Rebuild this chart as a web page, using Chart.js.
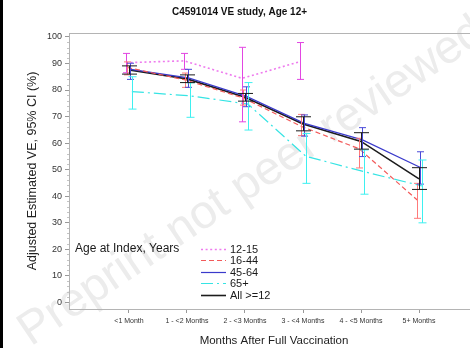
<!DOCTYPE html>
<html>
<head>
<meta charset="utf-8">
<script src="https://cdn.jsdelivr.net/npm/chart.js@4.4.1/dist/chart.umd.min.js"></script>
<style>
  html, body { margin: 0; padding: 0; background: #fff; overflow: hidden; width: 470px; height: 348px; }
  #wrap { position: relative; width: 470px; height: 348px; overflow: hidden; }
  #c { position: absolute; left: 0; top: 0; }
  #edge { position: absolute; left: 0; top: 0; width: 3px; height: 348px; background: #000; }
</style>
</head>
<body>
<div id="wrap">
  <canvas id="c" width="498" height="348" style="width:498px;height:348px"></canvas>
  <div id="edge"></div>
</div>
<script>
// Time since full vaccination
const categories = ['<1 Month', '1 - <2 Months', '2 - <3 Months', '3 - <4 Months', '4 - <5 Months', '5+ Months'];
const yTickValues = [0, 10, 20, 30, 40, 50, 60, 70, 80, 90, 100];

// Adjusted VE (%) with 95% CI, by age group
const age12to15 = [90.3, 91.0, 84.4, 90.7, null, null];
const age12to15Lo = [86.5, 87.8, 68.0, 84.0, null, null];
const age12to15Hi = [93.8, 93.8, 96.1, 97.9, null, null];

const age16to44 = [88.5, 83.8, 77.0, 66.3, 57.8, 38.5];
const age16to44Lo = [85.7, 81.0, 74.3, 62.8, 50.6, 31.6];
const age16to44Hi = [90.6, 86.4, 80.0, 70.8, 61.8, 44.8];

const age45to64 = [87.8, 84.6, 77.6, 67.4, 61.2, 50.8];
const age45to64Lo = [84.0, 81.0, 73.7, 62.6, 54.9, 44.5];
const age45to64Hi = [90.1, 87.8, 81.2, 70.6, 65.8, 56.7];

const age65plus = [79.4, 77.8, 74.7, 55.0, 49.2, 43.8];
const age65plusLo = [72.8, 69.7, 64.9, 44.8, 40.7, 29.9];
const age65plusHi = [85.0, 82.7, 82.8, 63.6, 57.4, 53.6];

const ageAll = [87.6, 84.2, 77.3, 67.2, 60.6, 46.5];
const ageAllLo = [86.0, 82.8, 75.8, 64.6, 57.7, 42.5];
const ageAllHi = [89.1, 85.7, 78.7, 69.9, 63.9, 50.7];

Chart.defaults.font.family = "'Liberation Sans', Arial, sans-serif";
Chart.defaults.color = '#222';

// small horizontal shift per group so the intervals don't overlap
function series(label, vals, lo, hi, shift, style) {
  const pts = [];
  vals.forEach((v, i) => { if (v !== null) pts.push({ x: i + 1 + shift, y: v }); });
  return Object.assign({
    label: label,
    data: pts,
    lo: lo, hi: hi, shift: shift,
    pointRadius: 0,
    pointHoverRadius: 0,
    fill: false,
    tension: 0
  }, style);
}

const datasets = [
  series('12-15', age12to15, age12to15Lo, age12to15Hi, -0.05,
    { borderColor: '#ee7bee', borderWidth: 1.6, borderDash: [2, 2.6], barColor: '#e246e2', cap: 3.5 }),
  series('16-44', age16to44, age16to44Lo, age16to44Hi, -0.03,
    { borderColor: '#f25a5a', borderWidth: 1.2, borderDash: [5, 3], barColor: '#ff7a7a', cap: 3.5 }),
  series('45-64', age45to64, age45to64Lo, age45to64Hi, 0.025,
    { borderColor: '#3a3acb', borderWidth: 1.2, borderDash: [], barColor: '#4a4ad8', cap: 3.5 }),
  series('65+', age65plus, age65plusLo, age65plusHi, 0.05,
    { borderColor: '#36e4e4', borderWidth: 1.2, borderDash: [12, 4, 2, 4], barColor: '#3ef0f0', cap: 4 }),
  series('All >=12', ageAll, ageAllLo, ageAllHi, 0,
    { borderColor: '#1c1c1c', borderWidth: 1.6, borderDash: [], barColor: '#1c1c1c', cap: 7.5 })
];

const watermark = {
  id: 'watermark',
  beforeDraw(chart) {
    const ctx = chart.ctx;
    ctx.save();
    ctx.translate(252, 182);
    ctx.rotate(-34 * Math.PI / 180);
    ctx.font = "47px 'Liberation Sans', Arial, sans-serif";
    ctx.fillStyle = '#ececec';
    ctx.textAlign = 'center';
    ctx.textBaseline = 'middle';
    ctx.fillText('Preprint not peer reviewed', 0, 0);
    ctx.restore();
  }
};

const frame = {
  id: 'frame',
  beforeDatasetsDraw(chart) {
    const { ctx, chartArea: a, scales: { y } } = chart;
    ctx.save();
    ctx.strokeStyle = '#b4b4b4';
    ctx.lineWidth = 1;
    ctx.beginPath();
    ctx.moveTo(a.left, a.top + 0.5);
    ctx.lineTo(a.right, a.top + 0.5);
    ctx.stroke();
    // minor ticks on the response axis
    ctx.strokeStyle = '#c4c4c4';
    ctx.beginPath();
    for (let v = 2; v < 100; v += 2) {
      if (v % 10 === 0) continue;
      const py = Math.round(y.getPixelForValue(v)) + 0.5;
      ctx.moveTo(a.left - 2, py);
      ctx.lineTo(a.left, py);
    }
    ctx.stroke();
    ctx.restore();
  }
};

const errorBars = {
  id: 'errorBars',
  afterDatasetsDraw(chart) {
    const { ctx, scales: { x, y } } = chart;
    ctx.save();
    chart.data.datasets.forEach(ds => {
      ctx.strokeStyle = ds.barColor;
      ctx.lineWidth = 1;
      ctx.setLineDash([]);
      ds.lo.forEach((lo, i) => {
        const hi = ds.hi[i];
        if (lo === null || hi === null) return;
        const px = Math.round(x.getPixelForValue(i + 1 + ds.shift)) + 0.5;
        const pLo = y.getPixelForValue(lo);
        const pHi = y.getPixelForValue(hi);
        ctx.beginPath();
        ctx.moveTo(px, pLo); ctx.lineTo(px, pHi);
        ctx.moveTo(px - ds.cap, pLo); ctx.lineTo(px + ds.cap, pLo);
        ctx.moveTo(px - ds.cap, pHi); ctx.lineTo(px + ds.cap, pHi);
        ctx.stroke();
      });
    });
    ctx.restore();
  }
};

const insetLegend = {
  id: 'insetLegend',
  afterDraw(chart) {
    const { ctx, chartArea: a } = chart;
    const x0 = a.left + 6;
    const y0 = a.bottom - 60.5;
    const step = 11.6;
    ctx.save();
    ctx.fillStyle = '#1a1a1a';
    ctx.textBaseline = 'middle';
    ctx.textAlign = 'left';
    ctx.font = "12px 'Liberation Sans', Arial, sans-serif";
    ctx.fillText('Age at Index, Years', x0, y0);
    ctx.font = "11px 'Liberation Sans', Arial, sans-serif";
    chart.data.datasets.forEach((ds, i) => {
      const yy = Math.round(y0 + i * step) + 0.5;
      ctx.strokeStyle = ds.borderColor;
      ctx.lineWidth = ds.borderWidth;
      ctx.setLineDash(ds.borderDash || []);
      ctx.beginPath();
      ctx.moveTo(a.left + 132, yy);
      ctx.lineTo(a.left + 157, yy);
      ctx.stroke();
      ctx.fillText(ds.label, a.left + 161, yy);
    });
    ctx.restore();
  }
};

new Chart(document.getElementById('c'), {
  type: 'line',
  data: { datasets: datasets },
  plugins: [watermark, frame, errorBars, insetLegend],
  options: {
    responsive: false,
    animation: false,
    events: [],
    layout: { padding: { left: 0, right: 19, top: 0, bottom: 0 } },
    plugins: {
      legend: { display: false },
      tooltip: { enabled: false },
      title: {
        display: true,
        text: 'C4591014 VE study, Age 12+',
        color: '#111',
        font: { size: 10, weight: 'bold' },
        padding: { top: 6, bottom: 15 }
      }
    },
    scales: {
      x: {
        type: 'linear',
        min: -0.034,
        max: 7.034,
        afterFit(s) { s.height = 39; },
        afterBuildTicks(s) { s.ticks = categories.map((c, i) => ({ value: i + 1 })); },
        ticks: {
          autoSkip: false,
          maxRotation: 0,
          padding: 4,
          color: '#333',
          font: { size: 7 },
          callback: v => categories[v - 1]
        },
        grid: { drawOnChartArea: false, drawTicks: true, tickLength: 4, color: '#999' },
        border: { color: '#b4b4b4' },
        title: {
          display: true,
          text: 'Months After Full Vaccination',
          color: '#222',
          font: { size: 11.5 },
          padding: { top: 0, bottom: 0 }
        }
      },
      y: {
        type: 'linear',
        min: -2.6,
        max: 101.5,
        afterFit(s) { s.width = 69; },
        afterBuildTicks(s) { s.ticks = yTickValues.map(v => ({ value: v })); },
        ticks: { padding: 3, color: '#333', font: { size: 9 } },
        grid: { drawOnChartArea: false, drawTicks: true, tickLength: 4, color: '#999' },
        border: { color: '#b4b4b4' },
        title: {
          display: true,
          text: 'Adjusted Estimated VE, 95% CI (%)',
          color: '#222',
          font: { size: 12.5 },
          padding: { top: 25, bottom: 0 }
        }
      }
    }
  }
});
</script>
</body>
</html>
